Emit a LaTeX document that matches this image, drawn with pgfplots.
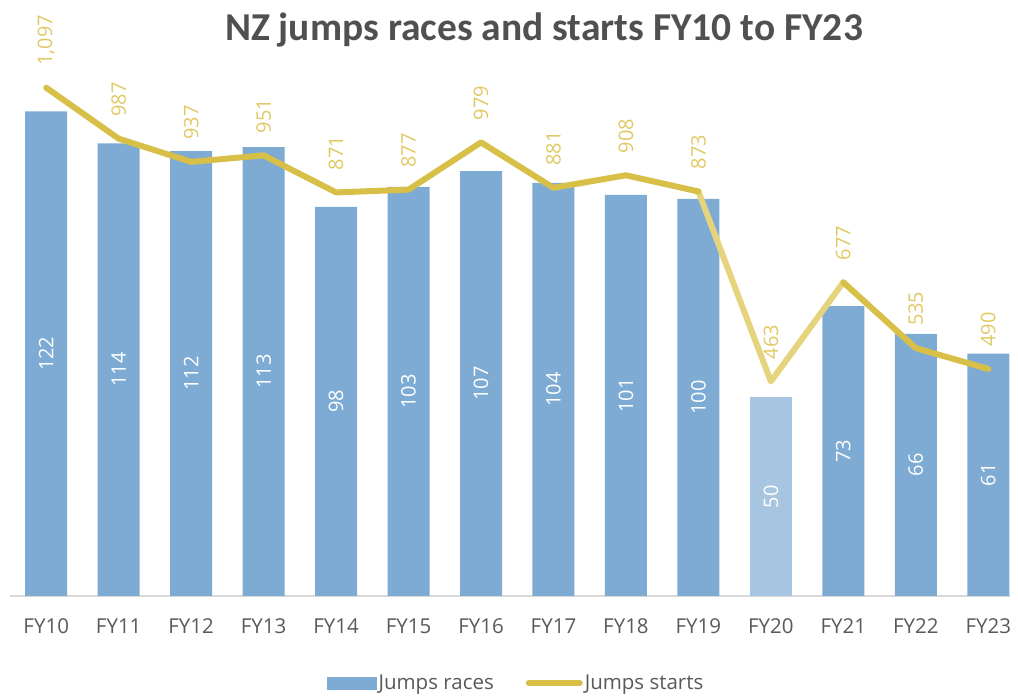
\documentclass[border=0pt]{standalone}
\usepackage{fontspec}
\setmainfont{Open Sans}
\newfontfamily\titlefont{Carlito}
\usepackage{pgfplots}
\usepackage{pgfplotstable}
\pgfplotsset{compat=1.18}
\definecolor{barblue}{HTML}{7EABD3}
\definecolor{barlight}{HTML}{A7C5E0}
\definecolor{gold}{HTML}{D8BF47}
\definecolor{goldtext}{HTML}{E0C963}
\definecolor{goldlight}{HTML}{E6D37D}
\definecolor{txtgray}{HTML}{595959}
\definecolor{titlegray}{HTML}{505050}
\definecolor{axgray}{HTML}{D9D9D9}

\pgfplotstableread{
x r
0 122
1 114
2 112
3 113
4 98
5 103
6 107
7 104
8 101
9 100
11 73
12 66
13 61
}\races
\pgfplotstableread{
x r
10 50
}\racesfy
\pgfplotstableread{
x r
0 122
1 114
2 112
3 113
4 98
5 103
6 107
7 104
8 101
9 100
10 50
11 73
12 66
13 61
}\racesall
\pgfplotstableread{
x s
0 1097
1 987
2 937
3 951
4 871
5 877
6 979
7 881
8 908
9 873
10 463
11 677
12 535
13 490
}\starts
\pgfplotstableread{
x s
0 1097
1 987
2 937
3 951
4 871
5 877
6 979
7 881
8 908
9 873
}\startsA
\pgfplotstableread{
x s
9 873
10 463
11 677
}\startsB
\pgfplotstableread{
x s
11 677
12 535
13 490
}\startsC

\begin{document}
\begin{tikzpicture}
\useasboundingbox (0,0) rectangle (1018pt,696pt);
\node[font=\titlefont\bfseries\fontsize{39.5}{46}\selectfont, text=titlegray] at (544pt,666pt) {NZ jumps races and starts FY10 to FY23};
\begin{axis}[
  at={(10pt,100pt)}, anchor=south west, scale only axis,
  width=1000pt, height=556pt,
  xmin=-0.5, xmax=13.3, ymin=0, ymax=140,
  hide y axis,
  axis x line*=bottom,
  x axis line style={draw=axgray, line width=2pt, -},
  xtick={0,...,13},
  xticklabels={FY10,FY11,FY12,FY13,FY14,FY15,FY16,FY17,FY18,FY19,FY20,FY21,FY22,FY23},
  major tick length=0pt,
  xticklabel style={font=\fontsize{20.5}{24}\selectfont, text=txtgray, yshift=-19pt},
  legend style={at={(0.506,-0.1565)}, anchor=center, draw=none, fill=none,
    font=\fontsize{20.5}{24}\selectfont, text=txtgray, legend columns=2,
    /tikz/every even column/.style={column sep=30pt}, inner sep=0pt},
  legend cell align=left,
]
\addplot[ybar, bar width=42pt, fill=barblue, draw=none,
  legend image code/.code={\fill[barblue] (0pt,-6.5pt) rectangle (50pt,6.5pt);}]
  table[x=x, y=r] {\races};
\addlegendentry{Jumps races}
\addlegendimage{legend image code/.code={\draw[gold, line width=6pt, line cap=round] (3pt,0pt) -- (54pt,0pt);}}
\addlegendentry{Jumps starts}
\addplot[ybar, bar width=42pt, fill=barlight, draw=none, forget plot]
  table[x=x, y=r] {\racesfy};
\addplot[draw=none, mark=none, forget plot, point meta=explicit,
  nodes near coords={\pgfmathprintnumber[assume math mode=true]{\pgfplotspointmeta}},
  every node near coord/.append style={rotate=90, anchor=center, text=white,
    font=\fontsize{20}{24}\selectfont}]
  table[x=x, y expr=\thisrow{r}/2, meta=r] {\racesall};
\end{axis}
\begin{axis}[
  at={(10pt,100pt)}, anchor=south west, scale only axis,
  width=1000pt, height=556pt,
  xmin=-0.5, xmax=13.3, ymin=0, ymax=1200,
  hide axis, clip=false,
]
\addplot[goldlight, line width=6pt, line join=round, line cap=round, mark=none]
  table[x=x, y=s] {\startsB};
\addplot[gold, line width=6pt, line join=round, line cap=round, mark=none]
  table[x=x, y=s] {\startsA};
\addplot[gold, line width=6pt, line join=round, line cap=round, mark=none]
  table[x=x, y=s] {\startsC};
\addplot[draw=none, mark=none, point meta=explicit,
  nodes near coords={\pgfmathprintnumber[assume math mode=true, 1000 sep={,}]{\pgfplotspointmeta}},
  every node near coord/.append style={rotate=90, anchor=west, text=goldtext,
    inner xsep=22pt, inner ysep=0pt, font=\fontsize{20}{24}\selectfont}]
  table[x=x, y=s, meta=s] {\starts};
\end{axis}
\end{tikzpicture}
\end{document}
